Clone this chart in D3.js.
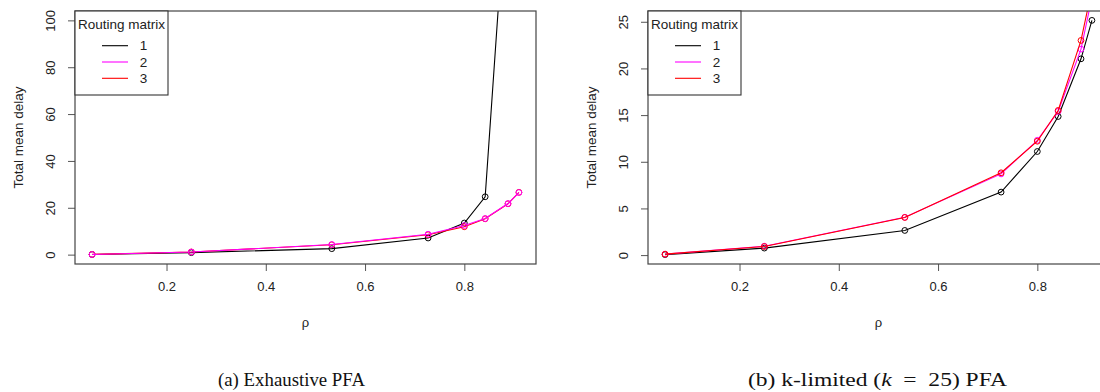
<!DOCTYPE html>
<html>
<head>
<meta charset="utf-8">
<script src="https://cdn.jsdelivr.net/npm/d3@7"></script>
<style>
  html, body { margin: 0; padding: 0; background: #fff; }
  svg { display: block; }
  .tick text, .lbl { font-family: "Liberation Sans", Arial, sans-serif; fill: #222; }
  .cap { font-family: "Liberation Serif", "DejaVu Serif", serif; fill: #111; }
</style>
</head>
<body>
<svg id="chart" width="1100" height="392"></svg>
<script>
// Load factor values (rho) shared by every series
const rho = [0.05, 0.25, 0.533, 0.727, 0.8, 0.842, 0.888, 0.91];

// Exhaustive PFA: total mean delay per routing matrix
const exhaustive1 = [0.05, 0.85, 2.55, 7.1, 13.5, 24.7, 165, 380];
const exhaustive2 = [0.05, 1.1, 4.3, 8.7, 12.4, 15.4, 21.8, 26.5];
const exhaustive3 = [0.1, 1.15, 4.2, 8.5, 11.9, 15.3, 21.7, 26.6];

// k-limited (k = 25) PFA: total mean delay per routing matrix
const kLimited1 = [0.05, 0.75, 2.64, 6.75, 11.1, 14.85, 21.03, 25.15];
const kLimited2 = [0.1, 0.95, 4.05, 8.7, 12.3, 15.4, 22.07, 27.6];
const kLimited3 = [0.1, 0.92, 4.03, 8.82, 12.2, 15.5, 23.0, 28.5];

const legendLabels = ["1", "2", "3"];
const legendTitle = "Routing matrix";
const seriesColors = ["#000000", "#ff00ff", "#ff0000"];
const xTicks = [0.2, 0.4, 0.6, 0.8];
const yTicksA = [0, 20, 40, 60, 80, 100];
const yTicksB = [0, 5, 10, 15, 20, 25];
const xTitle = "ρ";
const yTitle = "Total mean delay";

const svg = d3.select("#chart");

// R-style axis range: data extent widened by 4% on each side
function rRange(lo, hi) {
  const pad = (hi - lo) * 0.04;
  return [lo - pad, hi + pad];
}

function panel(opts) {
  const { id, left, right, top, bottom, series, yDomain, yTicks, order } = opts;
  const g = svg.append("g");

  const x = d3.scaleLinear().domain(rRange(d3.min(rho), d3.max(rho))).range([left, right]);
  const y = d3.scaleLinear().domain(yDomain).range([bottom, top]);

  g.append("clipPath").attr("id", "clip-" + id)
    .append("rect").attr("x", left).attr("y", top)
    .attr("width", right - left).attr("height", bottom - top);

  // Axes
  const xAxis = g.append("g").attr("transform", `translate(0,${bottom})`)
    .call(d3.axisBottom(x).tickValues(xTicks).tickFormat(d3.format(".1f")).tickSize(7).tickPadding(11));
  const yAxis = g.append("g").attr("transform", `translate(${left},0)`)
    .call(d3.axisLeft(y).tickValues(yTicks).tickFormat(d3.format("d")).tickSize(7).tickPadding(0));
  [xAxis, yAxis].forEach(a => {
    a.select(".domain").remove();
    a.selectAll(".tick line").attr("stroke", "#555");
    a.selectAll(".tick text").style("font-size", "13px");
  });
  // vertical tick labels, reading bottom to top
  yAxis.selectAll(".tick text")
    .attr("x", 0).attr("y", 0).attr("dy", null)
    .attr("text-anchor", "middle")
    .attr("dominant-baseline", "central")
    .attr("transform", "translate(-25,0) rotate(-90)");

  // Series
  const plot = g.append("g").attr("clip-path", `url(#clip-${id})`);
  const line = d3.line().x((d, i) => x(rho[i])).y(d => y(d));
  order.forEach(k => {
    const vals = series[k];
    plot.append("path").datum(vals)
      .attr("d", line).attr("fill", "none")
      .attr("stroke", seriesColors[k]).attr("stroke-width", 1.1);
    plot.selectAll(null).data(vals).join("circle")
      .attr("cx", (d, i) => x(rho[i])).attr("cy", d => y(d)).attr("r", 2.9)
      .attr("fill", "none").attr("stroke", seriesColors[k]).attr("stroke-width", 1);
  });

  // Plot frame
  g.append("rect").attr("x", left).attr("y", top)
    .attr("width", right - left).attr("height", bottom - top)
    .attr("fill", "none").attr("stroke", "#444").attr("stroke-width", 1.2);

  // Axis titles
  g.append("text").attr("class", "lbl")
    .attr("x", (left + right) / 2).attr("y", 327)
    .attr("text-anchor", "middle").style("font-size", "13px").text(xTitle);
  g.append("text").attr("class", "lbl")
    .attr("transform", `translate(${left - 57},${(top + bottom) / 2}) rotate(-90)`)
    .attr("text-anchor", "middle").attr("dominant-baseline", "central")
    .style("font-size", "13.5px").text(yTitle);

  // Legend
  const lg = g.append("g").attr("transform", `translate(${left},${top})`);
  lg.append("rect").attr("x", 0).attr("y", 0).attr("width", 93).attr("height", 84)
    .attr("fill", "#fff").attr("stroke", "#333").attr("stroke-width", 1.1);
  lg.append("text").attr("class", "lbl").attr("x", 3).attr("y", 18)
    .style("font-size", "13.5px").text(legendTitle);
  legendLabels.forEach((lab, i) => {
    const ly = 34.7 + i * 16.3;
    lg.append("line").attr("x1", 27).attr("x2", 53).attr("y1", ly).attr("y2", ly)
      .attr("stroke", seriesColors[i]).attr("stroke-width", 1.1);
    lg.append("text").attr("class", "lbl").attr("x", 68.5).attr("y", ly)
      .attr("text-anchor", "middle").attr("dominant-baseline", "central")
      .style("font-size", "13.5px").text(lab);
  });
}

panel({
  id: "a", left: 75, right: 536, top: 11, bottom: 264,
  series: [exhaustive1, exhaustive2, exhaustive3],
  yDomain: rRange(0, 100), yTicks: yTicksA, order: [0, 2, 1]
});
panel({
  id: "b", left: 648, right: 1109, top: 11, bottom: 264,
  series: [kLimited1, kLimited2, kLimited3],
  yDomain: rRange(d3.min(kLimited1), d3.max(kLimited1)), yTicks: yTicksB, order: [0, 1, 2]
});

// Sub-figure captions
svg.append("text").attr("class", "cap").attr("x", 218).attr("y", 386)
  .attr("textLength", 147).attr("lengthAdjust", "spacingAndGlyphs")
  .style("font-size", "19px").text("(a) Exhaustive PFA");
const cap2 = svg.append("text").attr("class", "cap").attr("x", 748).attr("y", 386)
  .attr("textLength", 259).attr("lengthAdjust", "spacingAndGlyphs")
  .style("font-size", "19px");
cap2.append("tspan").text("(b) k-limited (");
cap2.append("tspan").style("font-style", "italic").text("k");
cap2.append("tspan").text("\u2002=\u200225) PFA");
</script>
</body>
</html>
